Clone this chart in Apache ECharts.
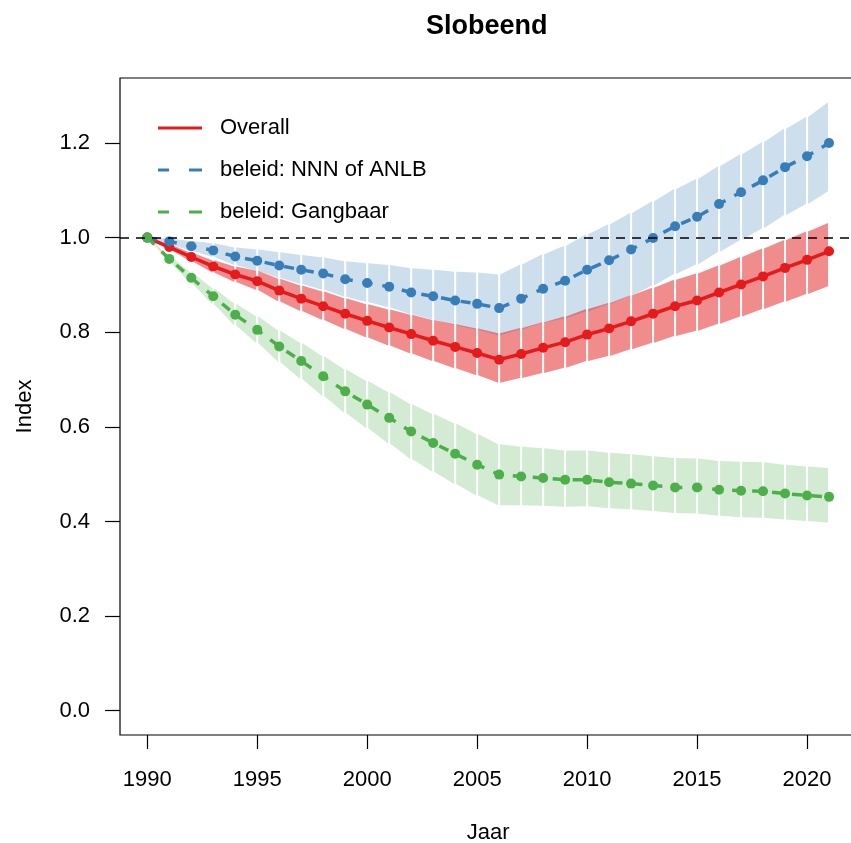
<!DOCTYPE html>
<html><head><meta charset="utf-8">
<script src="https://cdn.jsdelivr.net/npm/echarts@6/dist/echarts.min.js"></script>
<style>html,body{margin:0;padding:0;background:#fff}#c{width:851px;height:843px}</style>
</head><body><div id="c"></div>
<script>
const years = [1990,1991,1992,1993,1994,1995,1996,1997,1998,1999,2000,2001,2002,2003,2004,2005,2006,2007,2008,2009,2010,2011,2012,2013,2014,2015,2016,2017,2018,2019,2020,2021];

const overall   = [1.000,0.980,0.959,0.939,0.922,0.908,0.888,0.871,0.855,0.839,0.824,0.810,0.796,0.782,0.769,0.756,0.742,0.754,0.767,0.779,0.795,0.808,0.823,0.839,0.855,0.867,0.884,0.901,0.918,0.936,0.953,0.971];
const overallHi = [1.000,0.986,0.968,0.952,0.939,0.930,0.913,0.899,0.886,0.872,0.859,0.848,0.837,0.826,0.817,0.808,0.798,0.809,0.821,0.833,0.849,0.862,0.878,0.894,0.911,0.924,0.941,0.959,0.977,0.995,1.013,1.031];
const overallLo = [1.000,0.975,0.950,0.926,0.906,0.889,0.865,0.845,0.826,0.807,0.789,0.772,0.755,0.739,0.724,0.709,0.693,0.703,0.714,0.725,0.739,0.750,0.764,0.778,0.792,0.803,0.818,0.833,0.849,0.865,0.881,0.897];

const nnn   = [1.000,0.992,0.982,0.973,0.960,0.951,0.941,0.932,0.924,0.912,0.904,0.896,0.884,0.876,0.867,0.860,0.851,0.871,0.892,0.909,0.932,0.952,0.975,0.999,1.024,1.044,1.071,1.096,1.121,1.149,1.172,1.200];
const nnnHi = [1.000,0.998,0.993,0.988,0.979,0.975,0.969,0.963,0.958,0.950,0.946,0.942,0.935,0.932,0.928,0.926,0.922,0.943,0.965,0.983,1.007,1.028,1.052,1.077,1.103,1.124,1.151,1.176,1.202,1.230,1.255,1.286];
const nnnLo = [1.000,0.986,0.972,0.959,0.942,0.930,0.915,0.902,0.890,0.875,0.864,0.853,0.838,0.827,0.815,0.805,0.793,0.806,0.820,0.829,0.844,0.859,0.878,0.899,0.923,0.943,0.970,0.995,1.020,1.048,1.071,1.098];

const gang   = [1.000,0.955,0.915,0.876,0.837,0.805,0.770,0.739,0.707,0.675,0.647,0.619,0.590,0.566,0.543,0.520,0.499,0.495,0.492,0.488,0.488,0.483,0.480,0.476,0.472,0.472,0.467,0.465,0.464,0.459,0.455,0.452];
const gangHi = [1.000,0.961,0.927,0.893,0.860,0.833,0.803,0.777,0.749,0.721,0.697,0.673,0.648,0.627,0.607,0.585,0.563,0.558,0.555,0.550,0.550,0.545,0.542,0.538,0.534,0.533,0.528,0.526,0.525,0.520,0.516,0.513];
const gangLo = [1.000,0.949,0.903,0.859,0.814,0.777,0.737,0.701,0.665,0.629,0.597,0.565,0.532,0.505,0.479,0.455,0.434,0.434,0.433,0.431,0.432,0.428,0.426,0.422,0.418,0.417,0.412,0.409,0.408,0.404,0.401,0.398];

const seriesNames = ['Overall','beleid: NNN of ANLB','beleid: Gangbaar'];
const xTicks = [1990,1995,2000,2005,2010,2015,2020];
const yTicks = [0,0.2,0.4,0.6,0.8,1.0,1.2];
const refLine = 1;

const FONT = 'Liberation Sans, Arial, sans-serif';
const C_RED = '#E41A1C', C_BLUE = '#377EB8', C_GREEN = '#4DAF4A';

function bandSeries(id, lo, hi, fill, z) {
  const data = [];
  for (let i = 0; i < years.length - 1; i++) {
    data.push([years[i], lo[i], hi[i], years[i+1], lo[i+1], hi[i+1]]);
  }
  return {
    type: 'custom', name: id, silent: true, z: z, data: data,
    encode: {x: [0, 3], y: [1, 2, 4, 5]},
    renderItem: function (params, api) {
      const a = api.coord([api.value(0), api.value(2)]);
      const b = api.coord([api.value(3), api.value(5)]);
      const c = api.coord([api.value(3), api.value(4)]);
      const d = api.coord([api.value(0), api.value(1)]);
      const g = 1;
      return {
        type: 'polygon',
        shape: {points: [[a[0]+g, a[1]], [b[0]-g, b[1]], [c[0]-g, c[1]], [d[0]+g, d[1]]]},
        style: {fill: fill}
      };
    }
  };
}

function lineSeries(name, vals, color, dashed) {
  return {
    type: 'line', name: name, z: 4,
    data: years.map((y, i) => [y, vals[i]]),
    symbol: 'circle', symbolSize: 10, showSymbol: true,
    itemStyle: {color: color},
    lineStyle: {color: color, width: 3.5, type: dashed ? [10, 10] : 'solid'},
    emphasis: {disabled: true}, animation: false
  };
}

const chart = echarts.init(document.getElementById('c'), null, {renderer: 'canvas'});
chart.setOption({
  animation: false,
  backgroundColor: '#fff',
  title: {
    text: 'Slobeend', left: 426, top: 13, padding: 0,
    textStyle: {fontFamily: FONT, fontSize: 27, fontWeight: 'bold', color: '#000'}
  },
  legend: {
    orient: 'vertical', left: 153, top: 112, itemWidth: 44, itemHeight: 3, itemGap: 20,
    selectedMode: false,
    textStyle: {fontFamily: FONT, fontSize: 22, lineHeight: 22, color: '#000', padding: [0, 0, 0, 13]},
    data: [
      {name: seriesNames[0], icon: 'path://M0,0H44V3H0Z'},
      {name: seriesNames[1], icon: 'path://M0,0H11V3H0Z M31,0H44V3H31Z'},
      {name: seriesNames[2], icon: 'path://M0,0H11V3H0Z M31,0H44V3H31Z'}
    ]
  },
  grid: {
    left: 120, top: 78, width: 736.3, height: 657,
    outerBoundsMode: 'none', containLabel: false,
    show: true, borderColor: '#000', borderWidth: 1.2, backgroundColor: 'transparent'
  },
  xAxis: {
    type: 'value', min: 1988.76, max: 2022.24,
    name: 'Jaar', nameLocation: 'middle', nameGap: 87,
    nameTextStyle: {fontFamily: FONT, fontSize: 22, color: '#000'},
    splitLine: {show: false},
    axisLine: {show: false, onZero: false},
    axisTick: {show: true, length: 14, customValues: xTicks, lineStyle: {color: '#000', width: 1.2}},
    axisLabel: {customValues: xTicks, margin: 34, fontFamily: FONT, fontSize: 22, color: '#000',
      formatter: v => String(v)}
  },
  yAxis: {
    type: 'value', min: -0.0514, max: 1.3374,
    name: 'Index', nameLocation: 'middle', nameGap: 84, nameRotate: 90,
    nameTextStyle: {fontFamily: FONT, fontSize: 22, color: '#000'},
    splitLine: {show: false},
    axisLine: {show: false, onZero: false},
    axisTick: {show: true, length: 15, customValues: yTicks, lineStyle: {color: '#000', width: 1.2}},
    axisLabel: {customValues: yTicks, margin: 30, fontFamily: FONT, fontSize: 22, color: '#000',
      formatter: v => Number(v).toFixed(1)}
  },
  series: [
    bandSeries('bandNNN', nnnLo, nnnHi, 'rgba(55,126,184,0.25)', 1),
    bandSeries('bandOverall', overallLo, overallHi, 'rgba(228,26,28,0.5)', 2),
    bandSeries('bandGang', gangLo, gangHi, 'rgba(77,175,74,0.25)', 2),
    lineSeries(seriesNames[0], overall, C_RED, false),
    lineSeries(seriesNames[1], nnn, C_BLUE, true),
    lineSeries(seriesNames[2], gang, C_GREEN, true),
    {
      type: 'line', name: 'ref', data: [], z: 6, silent: true,
      markLine: {
        silent: true, symbol: ['none', 'none'], animation: false,
        label: {show: false},
        lineStyle: {color: '#000', width: 1.5, type: [9, 7]},
        data: [{yAxis: refLine}]
      }
    }
  ]
});
</script>
</body></html>
